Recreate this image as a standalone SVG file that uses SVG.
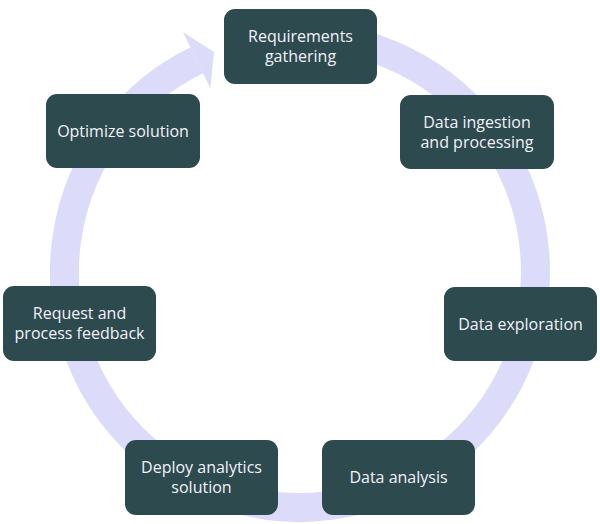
<svg xmlns="http://www.w3.org/2000/svg" width="600" height="524" viewBox="0 0 600 524">
<style>
.box{fill:#2d4a4e;}
.t{font-family:"Open Sans","Noto Sans","Liberation Sans",sans-serif;font-size:16px;fill:#f2f2fa;text-anchor:middle;}
.ring{fill:none;stroke:#dcdcfa;stroke-width:29;}
</style>
<rect width="600" height="524" fill="#ffffff"/>
<g id="connectors">
<path class="ring" d="M 300 36.5 A 235.5 235.5 0 1 1 196.8 60.3"/>
<polygon points="183,32 214,52 210.4,88.2" fill="#dcdcfa"/>
</g>
<g id="n1"><rect class="box" x="224" y="9" width="153" height="75" rx="11"/><text class="t" x="300.5" y="42">Requirements</text><text class="t" x="300.5" y="62">gathering</text></g>
<g id="n2"><rect class="box" x="400" y="95" width="154" height="74" rx="11"/><text class="t" x="477" y="128">Data ingestion</text><text class="t" x="477" y="148">and processing</text></g>
<g id="n3"><rect class="box" x="444" y="287" width="153" height="74" rx="11"/><text class="t" x="520.5" y="329.5">Data exploration</text></g>
<g id="n4"><rect class="box" x="322" y="440" width="153" height="75" rx="11"/><text class="t" x="398.5" y="483">Data analysis</text></g>
<g id="n5"><rect class="box" x="125" y="440" width="153" height="75" rx="11"/><text class="t" x="201.5" y="473">Deploy analytics</text><text class="t" x="201.5" y="493">solution</text></g>
<g id="n6"><rect class="box" x="3" y="286" width="153" height="75" rx="11"/><text class="t" x="79.5" y="319">Request and</text><text class="t" x="79.5" y="339">process feedback</text></g>
<g id="n7"><rect class="box" x="46" y="94" width="154" height="74" rx="11"/><text class="t" x="123" y="136.5">Optimize solution</text></g>
</svg>
